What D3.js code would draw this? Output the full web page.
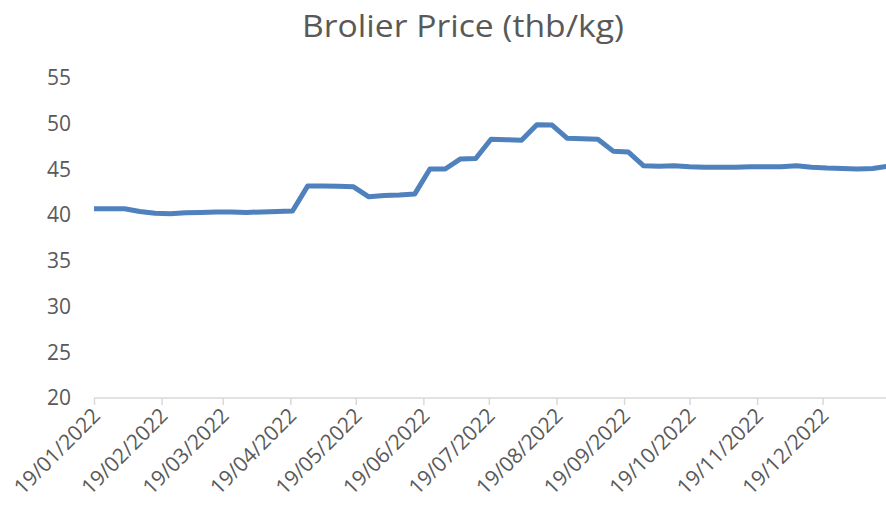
<!DOCTYPE html>
<html>
<head>
<meta charset="utf-8">
<script src="https://cdn.jsdelivr.net/npm/d3@7"></script>
<style>
  body { margin: 0; background: #fff; }
  text { font-family: "Open Sans", "Liberation Sans", sans-serif; fill: #595959; }
</style>
</head>
<body>
<script>
const width = 886;
const height = 516;

// weekly prices, starting 19/01/2022
const startDate = new Date(2022, 0, 19);
const prices = [
  40.7, 40.7, 40.7, 40.4, 40.2, 40.15, 40.25, 40.3, 40.35, 40.35,
  40.3, 40.35, 40.4, 40.45, 43.2, 43.2, 43.15, 43.1, 42.0, 42.15,
  42.2, 42.3, 45.05, 45.05, 46.15, 46.2, 48.3, 48.25, 48.2, 49.9,
  49.85, 48.4, 48.35, 48.3, 47.0, 46.9, 45.4, 45.35, 45.4, 45.3,
  45.25, 45.25, 45.25, 45.3, 45.3, 45.3, 45.4, 45.25, 45.15, 45.1,
  45.05, 45.1, 45.35
];
const tickDates = d3.range(12).map(m => new Date(2022, m, 19));
const yTicks = [20, 25, 30, 35, 40, 45, 50, 55];

const data = prices.map((p, i) => ({ date: d3.timeDay.offset(startDate, i * 7), price: p }));

const margin = { top: 78, right: -2, bottom: 118, left: 94 };

const svg = d3.select('body').append('svg')
    .attr('width', width)
    .attr('height', height);

const xScale = d3.scaleTime()
    .domain(d3.extent(data, d => d.date))
    .range([margin.left, width - margin.right]);
const yScale = d3.scaleLinear()
    .domain([20, 55])
    .range([height - margin.bottom, margin.top]);

svg.append('text')
    .attr('x', 463)
    .attr('y', 37)
    .attr('text-anchor', 'middle')
    .attr('font-size', 31)
    .attr('textLength', 322)
    .attr('lengthAdjust', 'spacingAndGlyphs')
    .text('Brolier Price (thb/kg)');

// y labels, no axis line
const yAxis = d3.axisLeft(yScale).tickValues(yTicks).tickSize(0).tickPadding(0);
const gy = svg.append('g')
    .attr('transform', `translate(${margin.left - 23}, 0)`)
    .call(yAxis);
gy.select('.domain').remove();
gy.selectAll('text')
    .attr('font-size', 21)
    .attr('fill', '#595959')
    .style('font-family', '"Open Sans", sans-serif');

// x axis
const xAxis = d3.axisBottom(xScale)
    .tickValues(tickDates)
    .tickFormat(d3.timeFormat('%d/%m/%Y'))
    .tickSizeOuter(0)
    .tickSize(7);
const gx = svg.append('g')
    .attr('transform', `translate(0, ${yScale(20)})`)
    .call(xAxis);
gx.select('.domain').attr('stroke', '#d9d9d9').attr('stroke-width', 1.5)
    .attr('d', `M${margin.left},0H${width}`);
gx.selectAll('.tick line').attr('stroke', '#d9d9d9').attr('stroke-width', 1.5);
gx.selectAll('.tick text')
    .attr('font-size', 21)
    .attr('fill', '#595959')
    .style('font-family', '"Open Sans", sans-serif')
    .attr('text-anchor', 'end')
    .attr('dy', null)
    .attr('y', 0)
    .attr('transform', 'translate(7,19) rotate(-45)');

const line = d3.line()
    .x(d => xScale(d.date))
    .y(d => yScale(d.price));

svg.append('path')
    .datum(data)
    .attr('fill', 'none')
    .attr('stroke', '#4f81bd')
    .attr('stroke-width', 5)
    .attr('stroke-linejoin', 'round')
    .attr('d', line);
</script>
</body>
</html>
